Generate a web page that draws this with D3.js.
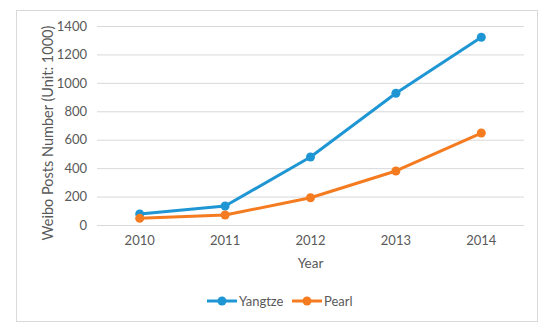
<!DOCTYPE html>
<html><head><meta charset="utf-8">
<script src="https://cdn.jsdelivr.net/npm/d3@7"></script>
<style>body{margin:0;background:#fff;}svg{display:block;font-family:Lato,"Open Sans",sans-serif;}</style>
</head><body>
<script>
const years = ["2010","2011","2012","2013","2014"];
const yangtze = [77, 134, 478, 927, 1321];
const pearl = [47, 70, 192, 380, 647];
const yTicks = [0,200,400,600,800,1000,1200,1400];
const seriesNames = ["Yangtze","Pearl"];
const colors = ["#1f96d4","#f47b20"];

const W=550,H=331;
const svg=d3.select("body").append("svg").attr("width",W).attr("height",H);
svg.append("rect").attr("x",16.5).attr("y",10.5).attr("width",521).attr("height",311)
  .attr("fill","#fff").attr("stroke","#d9d9d9");

const m={l:97,r:524,t:26,b:225};
const x=d3.scaleBand().domain(years).range([m.l,m.r]);
const y=d3.scaleLinear().domain([0,1400]).range([m.b,m.t]);

const yAx=svg.append("g").attr("transform",`translate(${m.l},0)`)
  .call(d3.axisLeft(y).tickValues(yTicks).tickFormat(d3.format("d")).tickSize(-(m.r-m.l)).tickPadding(10));
yAx.select(".domain").remove();
yAx.selectAll("line").attr("stroke","#d9d9d9");
yAx.selectAll("text").attr("fill","#595959").style("font-size","13px").style("font-family","Lato,sans-serif");

const xAx=svg.append("g").attr("transform",`translate(0,${m.b})`)
  .call(d3.axisBottom(x).tickSize(0).tickPadding(11));
xAx.select(".domain").remove();
xAx.selectAll("text").attr("fill","#595959").style("font-size","13px").style("font-family","Lato,sans-serif");

svg.append("text").attr("x",(m.l+m.r)/2).attr("y",263).attr("dy","0.35em").attr("text-anchor","middle")
  .attr("fill","#595959").style("font-size","13.5px").text("Year");
svg.append("text").attr("transform",`translate(48,133) rotate(-90)`).attr("dy","0.35em").attr("text-anchor","middle")
  .attr("fill","#595959").style("font-size","14.5px").text("Weibo Posts Number (Unit: 1000)");

const data=[yangtze,pearl];
const line=d3.line().x((d,i)=>x(years[i])+x.bandwidth()/2).y(d=>y(d));
data.forEach((s,k)=>{
  svg.append("path").datum(s).attr("d",line).attr("fill","none").attr("stroke",colors[k]).attr("stroke-width",3).attr("stroke-linejoin","round");
  svg.selectAll(null).data(s).enter().append("circle")
    .attr("cx",(d,i)=>x(years[i])+x.bandwidth()/2).attr("cy",d=>y(d)).attr("r",4.5).attr("fill",colors[k]);
});

const legX=[207,292];
seriesNames.forEach((n,k)=>{
  const g=svg.append("g").attr("transform",`translate(${legX[k]},301)`);
  g.append("line").attr("x1",0).attr("x2",30).attr("stroke",colors[k]).attr("stroke-width",3);
  g.append("circle").attr("cx",15).attr("r",4.5).attr("fill",colors[k]);
  g.append("text").attr("x",32).attr("dy","0.35em").attr("fill","#595959").style("font-size","13px").text(n);
});
</script>
</body></html>
